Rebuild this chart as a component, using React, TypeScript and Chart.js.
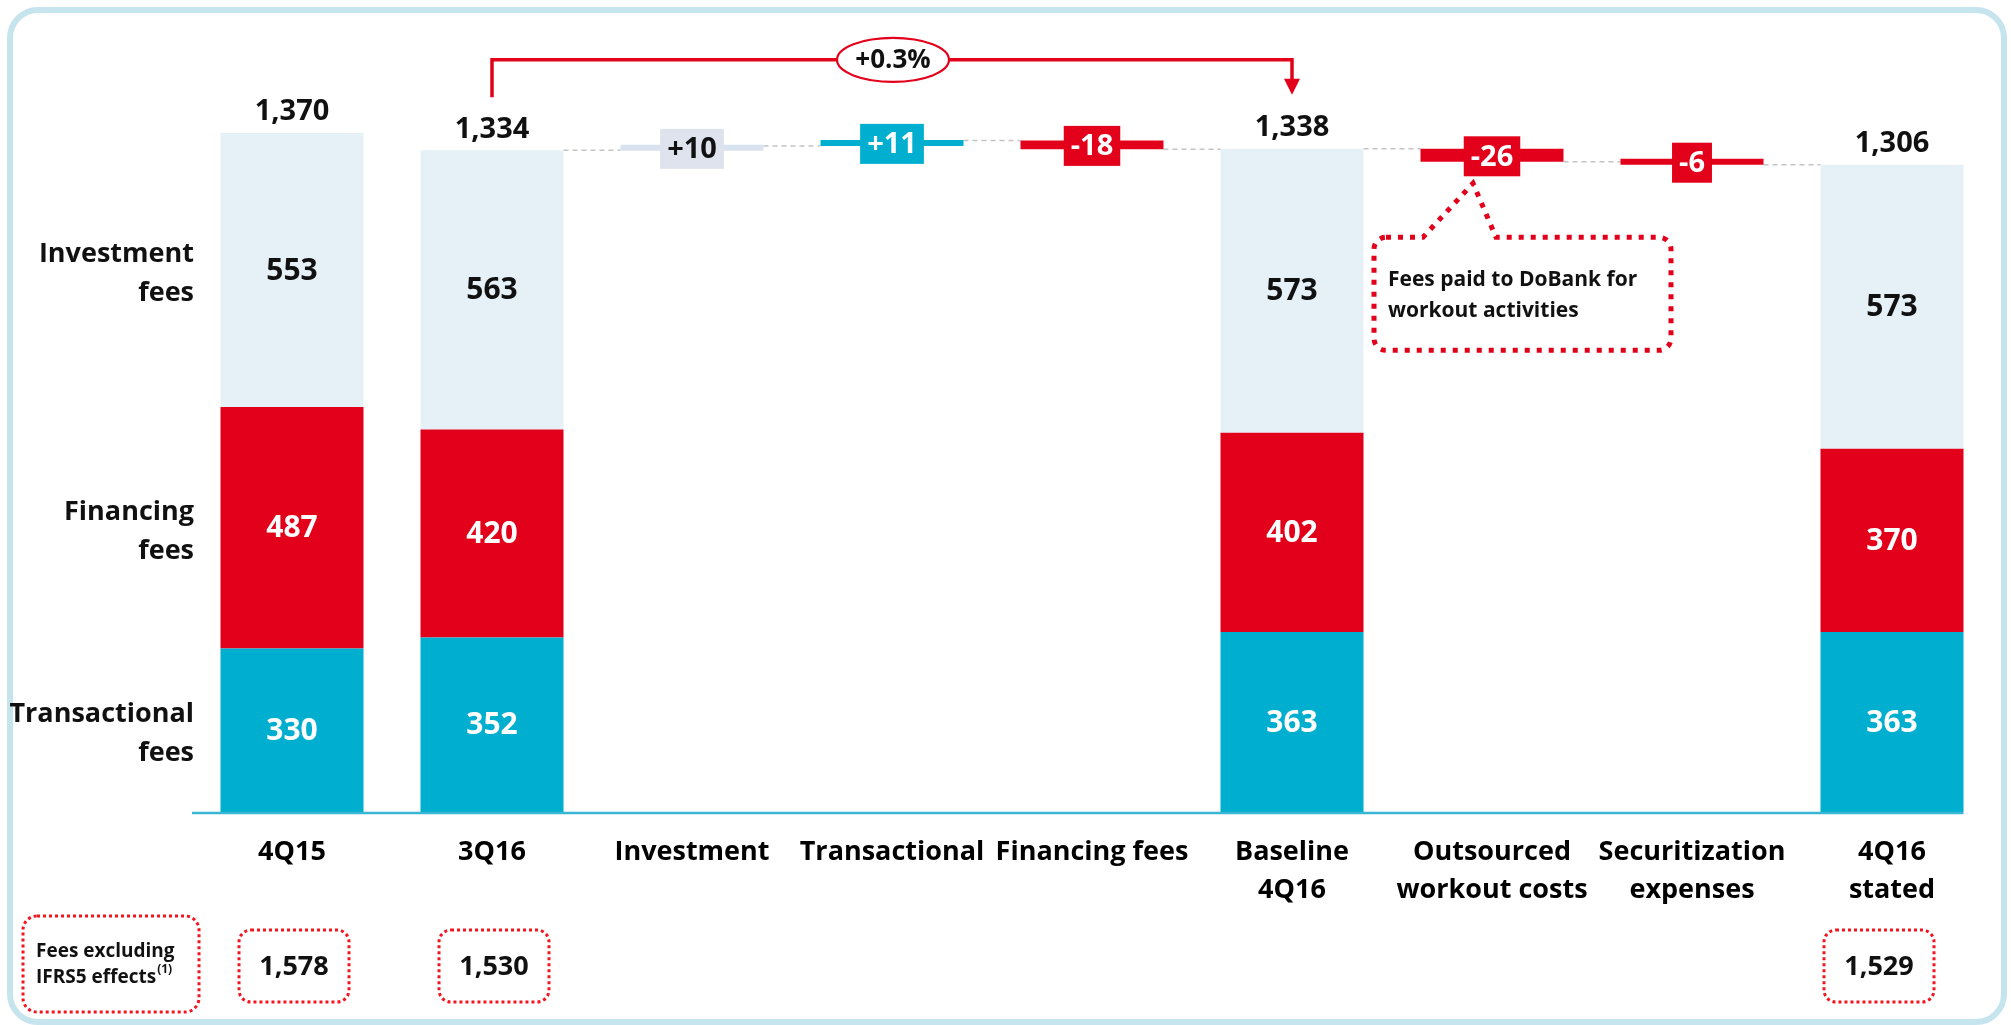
import React, { useEffect, useRef } from "react";
import { Chart, registerables } from "chart.js";

Chart.register(...registerables);

// ---------- DATA ----------
const categories: string[][] = [
  ["4Q15"],
  ["3Q16"],
  ["Investment"],
  ["Transactional"],
  ["Financing fees"],
  ["Baseline", "4Q16"],
  ["Outsourced", "workout costs"],
  ["Securitization", "expenses"],
  ["4Q16", "stated"],
];
const transactionalFees: (number | null)[] = [330, 352, null, null, null, 363, null, null, 363];
const financingFees: (number | null)[] = [487, 420, null, null, null, 402, null, null, 370];
const investmentFees: (number | null)[] = [553, 563, null, null, null, 573, null, null, 573];
const totals: (number | null)[] = [1370, 1334, null, null, null, 1338, null, null, 1306];
const deltas: (number | null)[] = [null, null, 10, 11, -18, null, -26, -6, null];
const feesExclIFRS5: (number | null)[] = [1578, 1530, null, null, null, null, null, null, 1529];
const seriesNames: string[][] = [
  ["Investment", "fees"],
  ["Financing", "fees"],
  ["Transactional", "fees"],
];
const changeLabel = "+0.3%";
const calloutLines = ["Fees paid to DoBank for", "workout activities"];
const footLabelLines = ["Fees excluding", "IFRS5 effects"];
const footNoteMark = "(1)";

// ---------- STYLE ----------
const FONT = '"Open Sans", "DejaVu Sans", sans-serif';
const C = {
  light: "#e5f0f7",
  red: "#e2001a",
  cyan: "#00aecf",
  deltaLight: "#d8e3ef",
  deltaLightBox: "#dfe3ee",
  border: "#c5e4ee",
  axis: "#38b6d3",
  connector: "#c4c4c4",
  dotted: "#e2001a",
  dottedBright: "#f2141e",
  text: "#111111",
};
const deltaBarColors = [null, null, C.deltaLight, C.cyan, C.red, null, C.red, C.red, null];
const deltaBoxColors = [null, null, C.deltaLightBox, C.cyan, C.red, null, C.red, C.red, null];
const deltaTextColors = [null, null, C.text, "#ffffff", "#ffffff", null, "#ffffff", "#ffffff", null];

// ---------- derived ranges ----------
const transRanges = transactionalFees.map((v) => (v == null ? null : [0, v]));
const finRanges = financingFees.map((v, i) => {
  const t = transactionalFees[i];
  return v == null || t == null ? null : [t, t + v];
});
const invRanges = investmentFees.map((v, i) => {
  const t = transactionalFees[i];
  const f = financingFees[i];
  return v == null || t == null || f == null ? null : [t + f, t + f + v];
});
const deltaRanges: ([number, number] | null)[] = (() => {
  let running = 0;
  return deltas.map((d, i) => {
    const tot = totals[i];
    if (tot != null) {
      running = tot;
      return null;
    }
    if (d == null) return null;
    const r: [number, number] = [running, running + d];
    running += d;
    return r;
  });
})();

const fmt = (n: number) => n.toLocaleString("en-US");
const signed = (n: number) => (n > 0 ? "+" + n : String(n));

function font(size: number, weight: string | number = "bold") {
  return `${weight} ${size}px ${FONT}`;
}

const annotations = {
  id: "annotations",
  beforeDraw(chart: any) {
    const ctx = chart.ctx as CanvasRenderingContext2D;
    ctx.save();
    ctx.fillStyle = "#ffffff";
    ctx.fillRect(0, 0, chart.width, chart.height);
    ctx.strokeStyle = C.border;
    ctx.lineWidth = 6;
    ctx.beginPath();
    (ctx as any).roundRect(10, 10, chart.width - 17, chart.height - 13, 28);
    ctx.stroke();
    ctx.restore();
  },
  beforeDatasetsDraw(chart: any) {
    const ctx = chart.ctx as CanvasRenderingContext2D;
    const y = chart.scales.y;
    const topMeta = chart.getDatasetMeta(2);
    const dMeta = chart.getDatasetMeta(3);
    const n = categories.length;
    ctx.save();
    ctx.strokeStyle = C.connector;
    ctx.lineWidth = 1.5;
    ctx.setLineDash([5, 4]);
    for (let i = 1; i < n - 1; i++) {
      let level: number | null = null;
      let el: any = null;
      if (totals[i] != null) {
        el = topMeta.data[i];
        level = el.y;
      } else if (deltaRanges[i]) {
        el = dMeta.data[i];
        level = y.getPixelForValue(deltaRanges[i]![1]);
      }
      const next: any = totals[i + 1] != null ? topMeta.data[i + 1] : dMeta.data[i + 1];
      if (level == null || !el || !next) continue;
      ctx.beginPath();
      ctx.moveTo(el.x + el.width / 2, level);
      ctx.lineTo(next.x - next.width / 2, level);
      ctx.stroke();
    }
    ctx.restore();
  },
  afterDatasetsDraw(chart: any) {
    const ctx = chart.ctx as CanvasRenderingContext2D;
    const ys = chart.scales.y;
    const xs = chart.scales.x;
    const area = chart.chartArea;
    const metaT = chart.getDatasetMeta(0);
    const metaF = chart.getDatasetMeta(1);
    const metaI = chart.getDatasetMeta(2);
    const metaD = chart.getDatasetMeta(3);
    const n = categories.length;
    ctx.save();

    // baseline
    const zeroY = ys.getPixelForValue(0) + 1;
    const lastEl: any = metaT.data[n - 1];
    ctx.strokeStyle = C.axis;
    ctx.lineWidth = 2.5;
    ctx.beginPath();
    ctx.moveTo(area.left, zeroY);
    ctx.lineTo(lastEl.x + lastEl.width / 2, zeroY);
    ctx.stroke();

    ctx.textAlign = "center";
    ctx.textBaseline = "middle";

    // segment labels and totals
    const segs = [
      { meta: metaT, vals: transactionalFees, color: "#ffffff" },
      { meta: metaF, vals: financingFees, color: "#ffffff" },
      { meta: metaI, vals: investmentFees, color: C.text },
    ];
    for (const s of segs) {
      s.vals.forEach((v, i) => {
        if (v == null) return;
        const el: any = s.meta.data[i];
        ctx.fillStyle = s.color;
        ctx.font = font(30, "bold");
        ctx.fillText(String(v), el.x, (el.y + el.base) / 2 + 1);
      });
    }
    totals.forEach((v, i) => {
      if (v == null) return;
      const el: any = metaI.data[i];
      ctx.fillStyle = C.text;
      ctx.font = font(29, "bold");
      ctx.fillText(fmt(v), el.x, el.y - 21);
    });

    // delta label boxes
    deltas.forEach((d, i) => {
      if (d == null) return;
      const el: any = metaD.data[i];
      const cy = (el.y + el.base) / 2 + 1;
      const label = signed(d);
      ctx.font = font(29, "bold");
      const w = ctx.measureText(label).width + 14;
      const h = 40;
      ctx.fillStyle = deltaBoxColors[i] as string;
      ctx.fillRect(el.x - w / 2, cy - h / 2, w, h);
      ctx.fillStyle = deltaTextColors[i] as string;
      ctx.fillText(label, el.x, cy + 1);
    });

    // left series names aligned with first bar segments
    const firstSegs = [metaI.data[0], metaF.data[0], metaT.data[0]];
    seriesNames.forEach((lines, k) => {
      const el: any = firstSegs[k];
      const cy = (el.y + el.base) / 2 + 4;
      ctx.font = font(27, "bold");
      ctx.fillStyle = C.text;
      ctx.textAlign = "right";
      const lh = 39;
      lines.forEach((ln, j) => {
        ctx.fillText(ln, area.left + 2, cy + (j - (lines.length - 1) / 2) * lh);
      });
    });
    ctx.textAlign = "center";

    // change arrow from 3Q16 to Baseline 4Q16
    const fromEl: any = metaI.data[1];
    const toEl: any = metaI.data[5];
    const startY = fromEl.y - 53;
    const tipY = toEl.y - 54;
    const lineY = Math.min(fromEl.y, toEl.y) - 89;
    ctx.strokeStyle = C.red;
    ctx.lineWidth = 3.5;
    ctx.setLineDash([]);
    ctx.beginPath();
    ctx.moveTo(fromEl.x, startY);
    ctx.lineTo(fromEl.x, lineY);
    ctx.lineTo(toEl.x, lineY);
    ctx.lineTo(toEl.x, tipY - 14);
    ctx.stroke();
    ctx.fillStyle = C.red;
    ctx.beginPath();
    ctx.moveTo(toEl.x - 8, tipY - 16);
    ctx.lineTo(toEl.x + 8, tipY - 16);
    ctx.lineTo(toEl.x, tipY);
    ctx.closePath();
    ctx.fill();
    const ex = (fromEl.x + toEl.x) / 2 + 1;
    ctx.beginPath();
    ctx.ellipse(ex, lineY, 56, 22, 0, 0, Math.PI * 2);
    ctx.fillStyle = "#ffffff";
    ctx.fill();
    ctx.lineWidth = 2.2;
    ctx.strokeStyle = C.red;
    ctx.stroke();
    ctx.fillStyle = C.text;
    ctx.font = font(26, "bold");
    ctx.fillText(changeLabel, ex, lineY + 1);

    // callout under outsourced workout costs
    const oEl: any = metaD.data[6];
    const oBoxBottom = (oEl.y + oEl.base) / 2 + 1 + 20;
    const tipx = oEl.x - 19;
    const tipy = oBoxBottom + 7;
    const L = oEl.x - 118;
    const R = oEl.x + 179;
    const T = tipy + 54;
    const B = T + 113;
    const r = 12;
    ctx.beginPath();
    ctx.moveTo(L + r, T);
    ctx.lineTo(oEl.x - 69, T);
    ctx.lineTo(tipx, tipy);
    ctx.lineTo(oEl.x + 4, T);
    ctx.lineTo(R - r, T);
    ctx.arcTo(R, T, R, T + r, r);
    ctx.lineTo(R, B - r);
    ctx.arcTo(R, B, R - r, B, r);
    ctx.lineTo(L + r, B);
    ctx.arcTo(L, B, L, B - r, r);
    ctx.lineTo(L, T + r);
    ctx.arcTo(L, T, L + r, T, r);
    ctx.closePath();
    ctx.strokeStyle = C.dotted;
    ctx.lineWidth = 5;
    ctx.setLineDash([5, 7]);
    ctx.stroke();
    ctx.setLineDash([]);
    ctx.fillStyle = C.text;
    ctx.font = font(21, "bold");
    ctx.textAlign = "left";
    calloutLines.forEach((ln, j) => {
      ctx.fillText(ln, L + 14, T + 43 + j * 31);
    });

    // footer row: fees excluding IFRS5 effects
    ctx.strokeStyle = C.dottedBright;
    ctx.lineWidth = 3;
    ctx.setLineDash([3, 3]);
    const fL = 23, fT = 916, fW = 176, fH = 96;
    ctx.beginPath();
    (ctx as any).roundRect(fL, fT, fW, fH, 14);
    ctx.stroke();
    ctx.setLineDash([]);
    ctx.fillStyle = C.text;
    ctx.font = font(19, "bold");
    ctx.textAlign = "left";
    ctx.fillText(footLabelLines[0], fL + 13, fT + 36);
    ctx.fillText(footLabelLines[1], fL + 13, fT + 62);
    const w2 = ctx.measureText(footLabelLines[1]).width;
    ctx.font = font(12, "bold");
    ctx.fillText(footNoteMark, fL + 13 + w2 + 1, fT + 54);

    ctx.textAlign = "center";
    feesExclIFRS5.forEach((v, i) => {
      if (v == null) return;
      const cx = xs.getPixelForValue(i) + (i === n - 1 ? -13 : 2);
      const bw = 110, bh = 72, by = 930;
      ctx.strokeStyle = C.dottedBright;
      ctx.lineWidth = 3;
      ctx.setLineDash([3, 3]);
      ctx.beginPath();
      (ctx as any).roundRect(cx - bw / 2, by, bw, bh, 12);
      ctx.stroke();
      ctx.setLineDash([]);
      ctx.fillStyle = C.text;
      ctx.font = font(27, "bold");
      ctx.fillText(fmt(v), cx, by + bh / 2 + 1);
    });

    ctx.restore();
  },
};

export default function App() {
  const ref = useRef<HTMLCanvasElement | null>(null);
  useEffect(() => {
    if (!ref.current) return;
    const barOpts = {
      grouped: false,
      barPercentage: 0.715,
      categoryPercentage: 1,
      borderWidth: 0,
    };
    const chart = new Chart(ref.current, {
      type: "bar",
      data: {
        labels: categories as any,
        datasets: [
          { label: "Transactional fees", data: transRanges as any, backgroundColor: C.cyan, ...barOpts },
          { label: "Financing fees", data: finRanges as any, backgroundColor: C.red, ...barOpts },
          { label: "Investment fees", data: invRanges as any, backgroundColor: C.light, ...barOpts },
          {
            label: "Change",
            data: deltaRanges as any,
            backgroundColor: deltaBarColors.map((c) => c || "transparent") as any,
            minBarLength: 6,
            ...barOpts,
          },
        ],
      },
      options: {
        animation: false,
        responsive: false,
        maintainAspectRatio: false,
        devicePixelRatio: 1,
        layout: { padding: { left: 192, right: 19, top: 19, bottom: 0 } },
        plugins: { legend: { display: false }, tooltip: { enabled: false } },
        scales: {
          x: {
            type: "category",
            offset: true,
            grid: { display: false, drawTicks: false },
            border: { display: false },
            ticks: {
              color: "#000",
              font: { family: FONT, size: 27, weight: "bold", lineHeight: 38 / 27 },
              padding: 21,
              maxRotation: 0,
              minRotation: 0,
              autoSkip: false,
            },
            afterFit: (scale: any) => {
              scale.height = 213;
            },
          },
          y: { display: false, min: 0, max: 1600 },
        },
      } as any,
      plugins: [annotations],
    });
    return () => chart.destroy();
  }, []);
  return (
    <div style={{ position: "fixed", left: 0, top: 0, width: 2011, height: 1025, background: "#fff" }}>
      <canvas ref={ref} width={2011} height={1025} style={{ display: "block", width: 2011, height: 1025 }} />
    </div>
  );
}
